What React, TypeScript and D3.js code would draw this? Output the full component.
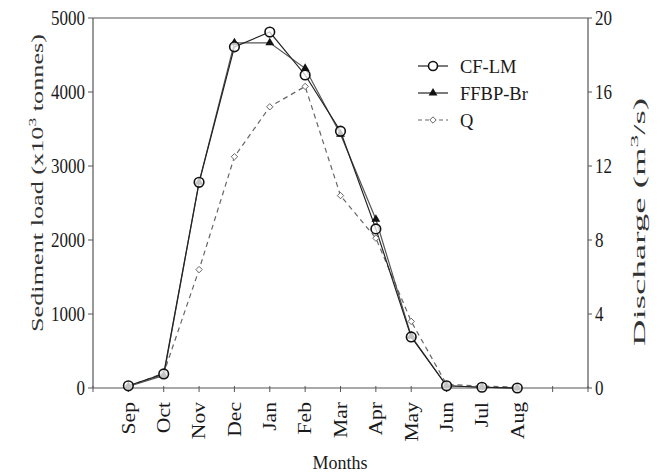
import React from "react";
import * as d3 from "d3";

const months = ["Sep", "Oct", "Nov", "Dec", "Jan", "Feb", "Mar", "Apr", "May", "Jun", "Jul", "Aug"];
const cfLm = [30, 190, 2780, 4610, 4810, 4230, 3470, 2150, 690, 30, 10, 0];
const ffbpBr = [20, 170, 2780, 4665, 4665, 4320, 3430, 2280, 700, 30, 10, 0];
const discharge = [0.1, 0.8, 6.4, 12.5, 15.2, 16.3, 10.4, 8.1, 3.6, 0.2, 0.1, 0.05];
const leftTicks = [0, 1000, 2000, 3000, 4000, 5000];
const rightTicks = [0, 4, 8, 12, 16, 20];

const W = 666, H = 475;
const L = 93, R = 588, T = 18, B = 388;
const font = "Liberation Serif, Times New Roman, Times, serif";
const axisColor = "#555";
const ink = "#1a1a1a";

export default function App() {
  const x = d3.scaleLinear().domain([-1, 13]).range([L, R]);
  const yL = d3.scaleLinear().domain([0, 5000]).range([B, T]);
  const yR = d3.scaleLinear().domain([0, 20]).range([B, T]);
  const idx = d3.range(months.length);
  const cfPath = d3.line<number>().x((i) => x(i)).y((i) => yL(cfLm[i]))(idx) || "";
  const ffPath = d3.line<number>().x((i) => x(i)).y((i) => yL(ffbpBr[i]))(idx) || "";
  const qPath = d3.line<number>().x((i) => x(i)).y((i) => yR(discharge[i]))(idx) || "";
  const xTicks = d3.range(-1, 14);
  const tri = d3.symbol().type(d3.symbolTriangle).size(34)() || "";
  const dia = (cx: number, cy: number, s = 3.2) =>
    `M${cx},${cy - s}L${cx + s},${cy}L${cx},${cy + s}L${cx - s},${cy}Z`;

  const legend = [
    { label: "CF-LM", y: 66 },
    { label: "FFBP-Br", y: 93 },
    { label: "Q", y: 120 },
  ];

  return (
    <svg width={W} height={H} style={{ position: "absolute", left: 0, top: 0, background: "#fff", fontFamily: font }}>
      {/* frame */}
      <line x1={L} x2={R} y1={T} y2={T} stroke={axisColor} strokeWidth={1.2} />
      <line x1={L} x2={L} y1={T} y2={B} stroke={axisColor} strokeWidth={1.2} />
      <line x1={R} x2={R} y1={T} y2={B} stroke={axisColor} strokeWidth={1.2} />
      <line x1={L} x2={R} y1={B} y2={B} stroke={axisColor} strokeWidth={1.2} />

      {/* left ticks */}
      {leftTicks.map((t) => (
        <g key={"l" + t}>
          <line x1={L - 5} x2={L} y1={yL(t)} y2={yL(t)} stroke={axisColor} />
          <text transform={`translate(${L - 8},${yL(t)}) scale(1,1.2)`} dy="0.35em" textAnchor="end"
            style={{ fontFamily: font }} fontSize={17} fill={ink}>{t}</text>
        </g>
      ))}
      {/* right ticks */}
      {rightTicks.map((t) => (
        <g key={"r" + t}>
          <line x1={R} x2={R + 4} y1={yR(t)} y2={yR(t)} stroke={axisColor} />
          <text transform={`translate(${R + 7},${yR(t)}) scale(1,1.2)`} dy="0.35em" textAnchor="start"
            style={{ fontFamily: font }} fontSize={17} fill={ink}>{t}</text>
        </g>
      ))}
      {/* x ticks */}
      {xTicks.map((t) => (
        <line key={"x" + t} x1={x(t)} x2={x(t)} y1={B - 2} y2={B + 4} stroke={axisColor} />
      ))}
      {months.map((m, i) => (
        <text key={m} transform={`translate(${x(i)},${B + 14}) rotate(-90) scale(1.2,1)`} dy="0.35em" textAnchor="end"
          style={{ fontFamily: font }} fontSize={18} fill={ink}>{m}</text>
      ))}

      {/* axis titles */}
      <text transform="translate(340,469) scale(1,1.1)" textAnchor="middle" style={{ fontFamily: font }} fontSize={18} fill={ink}>Months</text>
      <text transform={`translate(43,183) rotate(-90)`} textAnchor="middle" style={{ fontFamily: font }} fontSize={16.5} fill="#333"
        textLength={298} lengthAdjust="spacingAndGlyphs">
        Sediment load (x10<tspan dy="-7" fontSize={11}>3</tspan><tspan dy="7"> tonnes)</tspan>
      </text>
      <text transform={`translate(645,222) rotate(-90)`} textAnchor="middle" style={{ fontFamily: font }} fontSize={16} fill="#333"
        textLength={248} lengthAdjust="spacingAndGlyphs">
        Discharge (m<tspan dy="-7" fontSize={11}>3</tspan><tspan dy="7">/s)</tspan>
      </text>

      {/* series lines */}
      <path d={qPath} fill="none" stroke="#666" strokeWidth={1.2} strokeDasharray="5,4" />
      <path d={ffPath} fill="none" stroke="#555" strokeWidth={1.2} />
      <path d={cfPath} fill="none" stroke="#222" strokeWidth={1.2} />

      {/* markers */}
      {idx.map((i) => (
        <path key={"q" + i} d={dia(x(i), yR(discharge[i]))} fill="#fff" stroke="#666" strokeWidth={1} />
      ))}
      {idx.map((i) => (
        <path key={"f" + i} d={tri} transform={`translate(${x(i)},${yL(ffbpBr[i])})`} fill="#111" />
      ))}
      {idx.map((i) => (
        <circle key={"c" + i} cx={x(i)} cy={yL(cfLm[i])} r={4.8} fill="#fff" fillOpacity={0.75} stroke="#111" strokeWidth={1.6} />
      ))}

      {/* legend */}
      {legend.map((l, k) => (
        <g key={l.label}>
          <line x1={418} x2={448} y1={l.y} y2={l.y} stroke={k === 2 ? "#666" : "#222"} strokeWidth={1.2}
            strokeDasharray={k === 2 ? "4,3" : undefined} />
          {k === 0 && <circle cx={433} cy={l.y} r={4.5} fill="#fff" stroke="#111" strokeWidth={1.6} />}
          {k === 1 && <path d={tri} transform={`translate(433,${l.y})`} fill="#111" />}
          {k === 2 && <path d={dia(433, l.y)} fill="#fff" stroke="#666" />}
          <text transform={`translate(460,${l.y}) scale(1,1.05)`} dy="0.35em" style={{ fontFamily: font }} fontSize={18.5} fill={ink}>{l.label}</text>
        </g>
      ))}
    </svg>
  );
}
